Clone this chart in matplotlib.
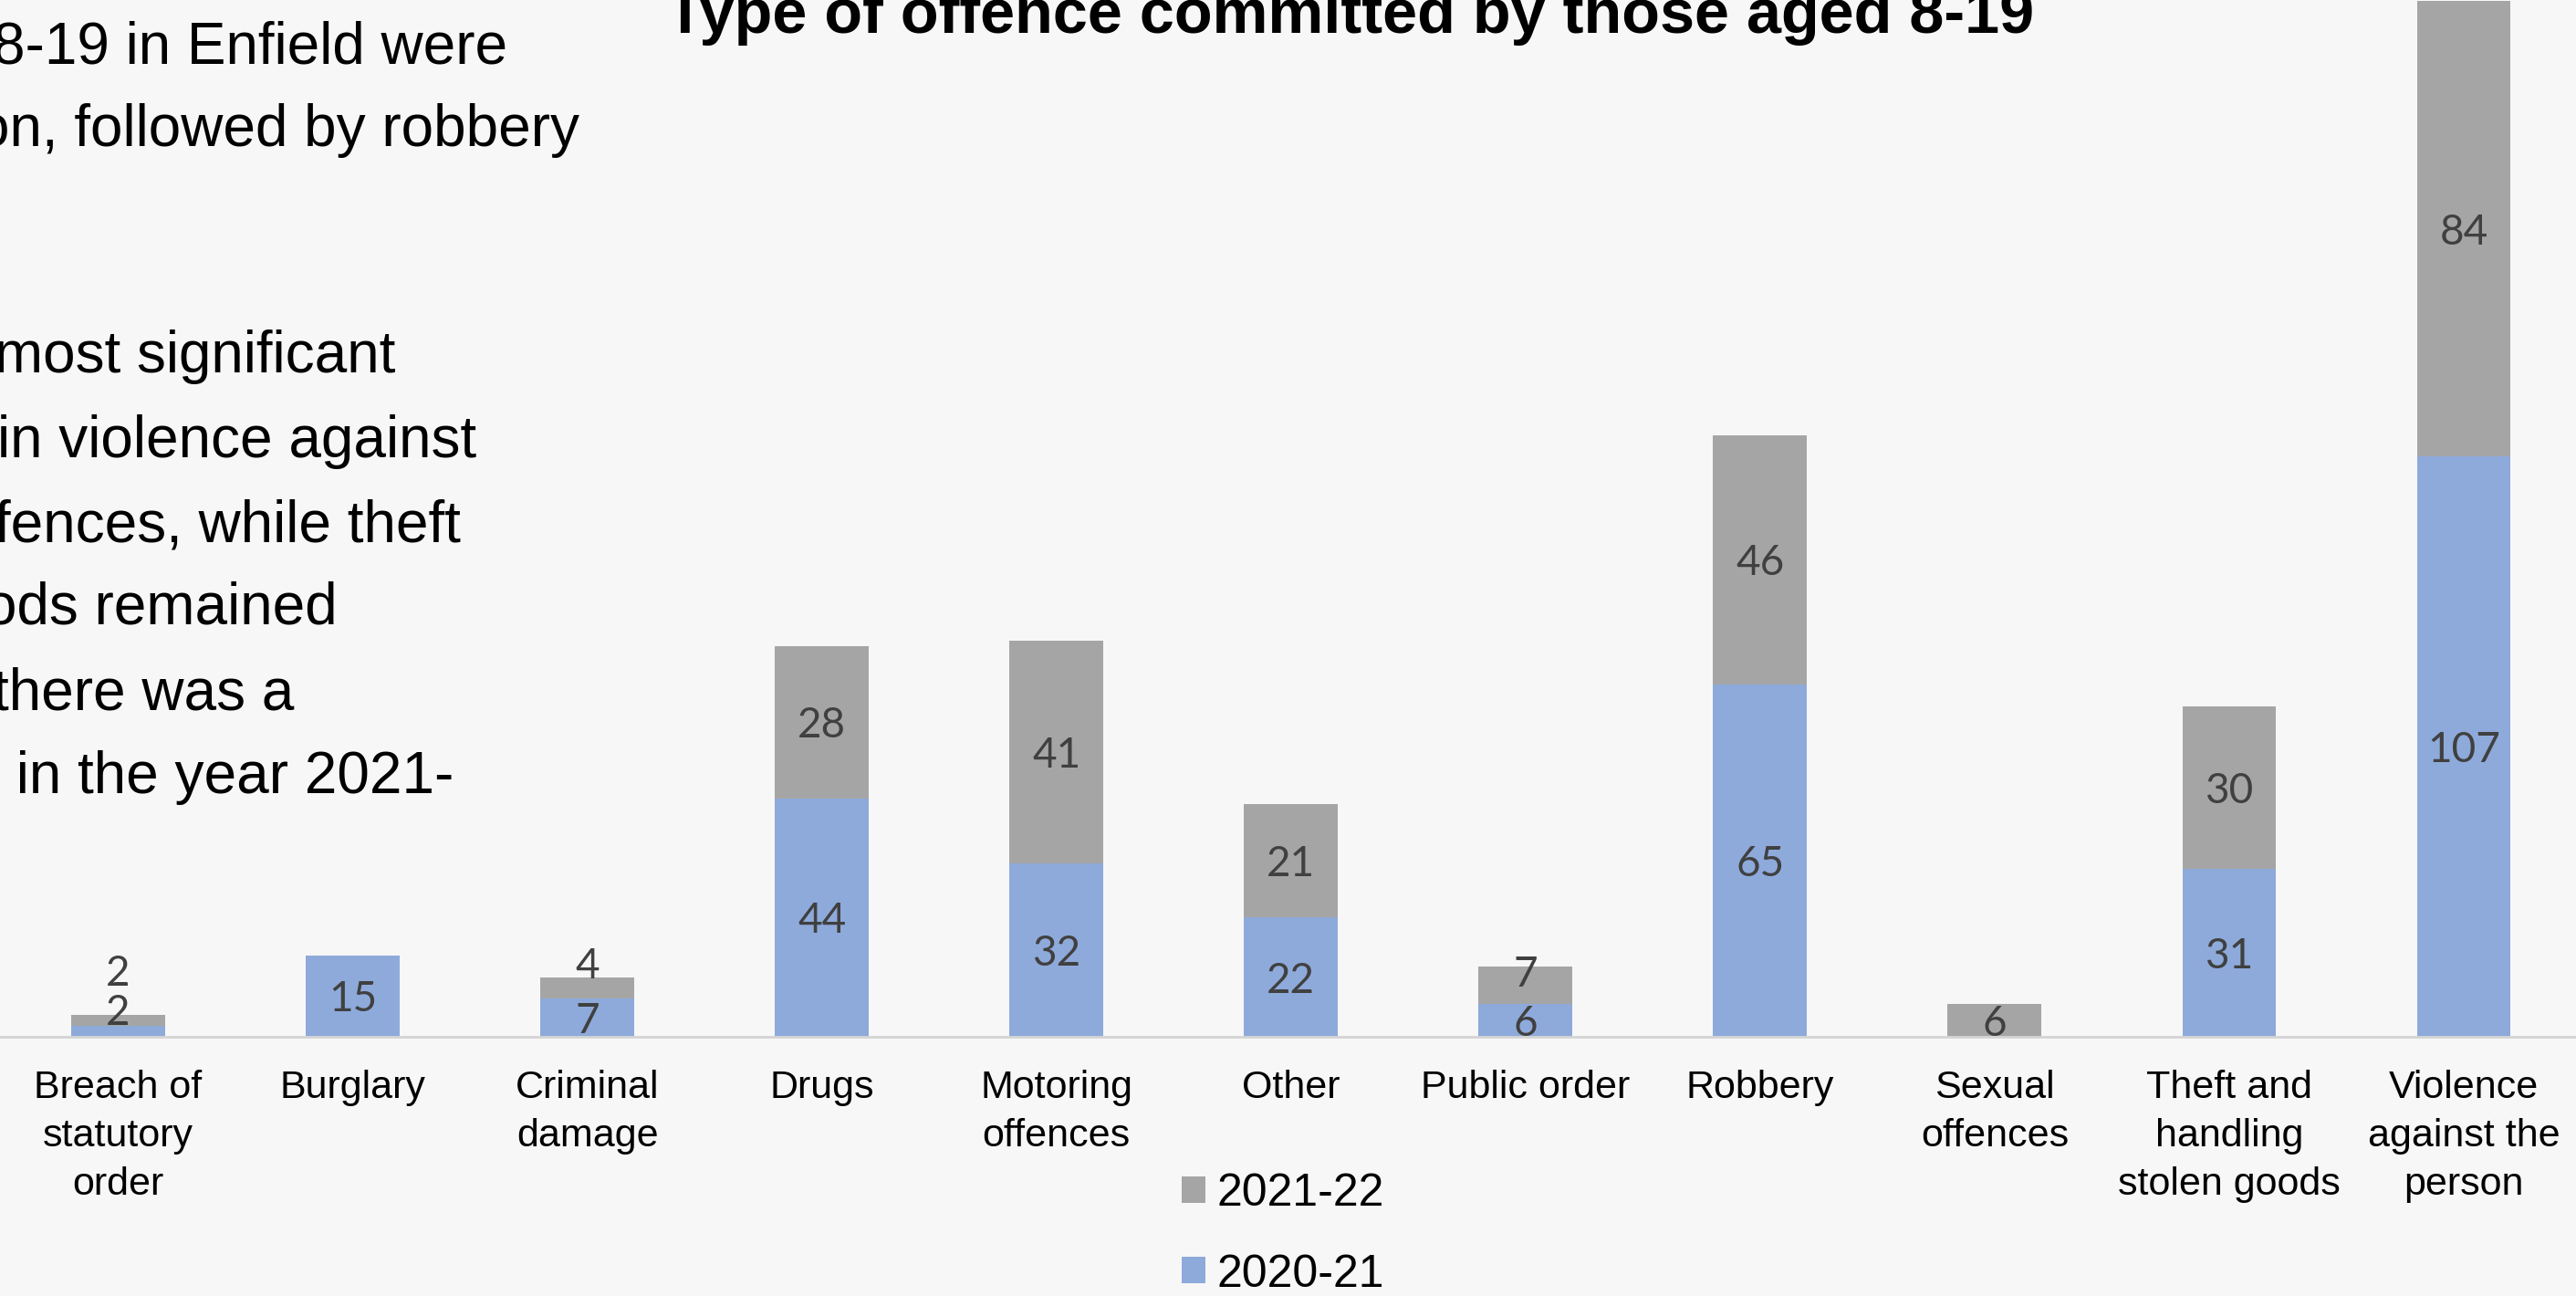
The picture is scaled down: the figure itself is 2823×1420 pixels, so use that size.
import matplotlib
matplotlib.use("Agg")
import matplotlib.pyplot as plt
import matplotlib.transforms as mtransforms
from matplotlib.patches import Patch

# --- data -------------------------------------------------------------
categories = [
    "Breach of\nstatutory\norder", "Burglary", "Criminal\ndamage", "Drugs",
    "Motoring\noffences", "Other", "Public order", "Robbery",
    "Sexual\noffences", "Theft and\nhandling\nstolen goods",
    "Violence\nagainst the\nperson",
]
offences_2020_21 = [2, 15, 7, 44, 32, 22, 6, 65, 0, 31, 107]
offences_2021_22 = [2, 0, 4, 28, 41, 21, 7, 46, 6, 30, 84]
series_names = ["2021-22", "2020-21"]

title = "Type of offence committed by those aged 8-19"
side_lines = [
    "8-19 in Enfield were",
    "on, followed by robbery",
    "most significant",
    "in violence against",
    "fences, while theft",
    "ods remained",
    "there was a",
    " in the year 2021-",
]

# --- style ------------------------------------------------------------
BG = "#f7f7f7"
BLUE = "#8eaadb"
GREY = "#a5a5a5"
LABEL_GREY = "#404040"
SANS = ["Liberation Sans", "DejaVu Sans"]
NUM = ["Lato", "DejaVu Sans"]

W, H, DPI = 2823, 1420, 100
fig = plt.figure(figsize=(W / DPI, H / DPI), dpi=DPI, facecolor=BG)

# plot area: baseline sits 284 px above the bottom edge
base_px = 1136
ax = fig.add_axes([0, 1 - base_px / H, 1, base_px / H])
ax.set_facecolor("none")

step_px = 257.05
first_px = 129.5
px_per_unit = 5.94
ax.set_xlim(-first_px / step_px, (W - first_px) / step_px)
ax.set_ylim(0, base_px / px_per_unit)

x = list(range(len(categories)))
bar_w = 0.4
ax.bar(x, offences_2020_21, width=bar_w, color=BLUE, zorder=2)
ax.bar(x, offences_2021_22, width=bar_w, bottom=offences_2020_21,
       color=GREY, zorder=2)

# data labels (small stacked segments get lifted clear of each other)
lift_px = {(0, 0): 24, (0, 1): 55, (2, 1): 28, (6, 1): 16}
for i in x:
    lower = offences_2020_21[i]
    upper = offences_2021_22[i]
    for s, (v, y0) in enumerate([(lower, 0), (upper, lower)]):
        if v == 0:
            continue
        dy = lift_px.get((i, s), 0) * 72 / DPI
        tr = ax.transData + mtransforms.ScaledTranslation(0, dy / 72, fig.dpi_scale_trans)
        ax.text(i, y0 + v / 2, str(v), transform=tr, ha="center",
                va="center_baseline", fontsize=33, family=NUM,
                color=LABEL_GREY, zorder=3)

# axes cosmetics
for side in ["top", "right", "left"]:
    ax.spines[side].set_visible(False)
ax.spines["bottom"].set_color("#d4d4d4")
ax.spines["bottom"].set_linewidth(2.0)
ax.set_yticks([])
ax.set_xticks(x)
ax.set_xticklabels(categories, fontsize=31, family=SANS, color="black",
                   linespacing=1.41, ha="center", va="top")
ax.tick_params(axis="x", length=0, pad=26)

# legend
handles = [Patch(facecolor=GREY, edgecolor="none"),
           Patch(facecolor=BLUE, edgecolor="none")]
fig.legend(handles, series_names, loc="upper left",
           bbox_to_anchor=(1295 / W, 1 - 1285 / H), frameon=False,
           prop={"family": SANS, "size": 36}, borderpad=0, borderaxespad=0,
           handlelength=0.52, handleheight=0.52, handletextpad=0.24,
           labelspacing=0.85)

# chart title
fig.text(730 / W, 1 - 36 / H, title, ha="left", va="baseline",
         fontsize=49.2, fontweight="bold", family=SANS, color="black")

# commentary text on the left
side_baselines = [69, 160, 408, 501, 593, 684, 777, 869]
side_x = [-8, -25, -6, -3, -6, -17, -8, 0]
for txt, yb, xl in zip(side_lines, side_baselines, side_x):
    fig.text(xl / W, 1 - yb / H, txt, ha="left", va="baseline",
             fontsize=46, family=SANS, color="black")

fig.savefig("out.png", dpi=DPI, facecolor=BG)
